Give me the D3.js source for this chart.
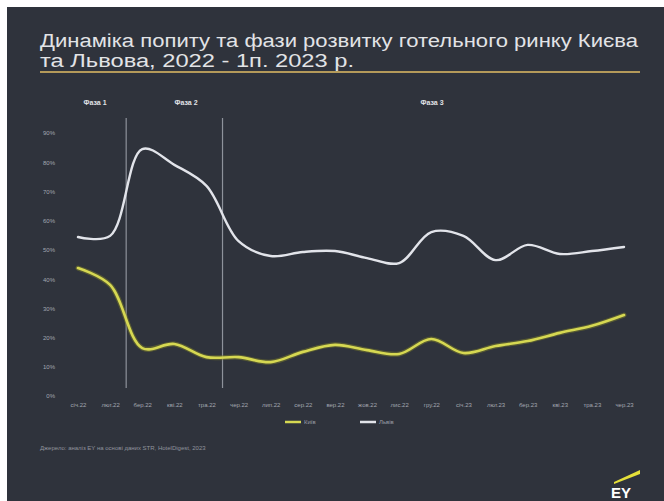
<!DOCTYPE html>
<html><head><meta charset="utf-8">
<script src="https://cdn.jsdelivr.net/npm/d3@7"></script>
<style>body{margin:0;background:#fff}svg{display:block}</style>
</head><body><svg id="c" width="664" height="501"></svg>
<script>
const months = ["січ.22","лют.22","бер.22","кві.22","тра.22","чер.22","лип.22","сер.22","вер.22","жов.22","лис.22","гру.22","січ.23","лют.23","бер.23","кві.23","тра.23","чер.23"];
const kyiv = [43.8,38.0,16.4,17.8,13.3,13.3,11.6,15.1,17.5,15.7,14.4,19.5,14.7,17.1,18.8,21.6,24.0,27.7];
const lviv = [54.4,54.8,84.5,79.1,71.9,53.0,47.9,49.3,49.6,47.2,45.5,56.1,54.8,46.5,51.7,48.6,49.6,51.0];
const yTicks = [0,10,20,30,40,50,60,70,80,90];
const phases = [{name:"Фаза 1", start:0, end:1.5},{name:"Фаза 2", start:1.5, end:4.5},{name:"Фаза 3", start:4.5, end:17}];
const seriesNames = ["Київ","Львів"];

const svg = d3.select("#c");
svg.append("rect").attr("x",7).attr("y",7).attr("width",657).attr("height",494).attr("fill","#2f333c");

svg.append("text").attr("x",40).attr("y",47).attr("fill","#e2e3e6")
  .attr("font-family","Liberation Sans, Arial, sans-serif").attr("font-size",18)
  .attr("textLength",598).attr("lengthAdjust","spacingAndGlyphs")
  .text("Динаміка попиту та фази розвитку готельного ринку Києва");
svg.append("text").attr("x",40).attr("y",67).attr("fill","#e2e3e6")
  .attr("font-family","Liberation Sans, Arial, sans-serif").attr("font-size",18)
  .attr("textLength",314).attr("lengthAdjust","spacingAndGlyphs")
  .text("та Львова, 2022 - 1п. 2023 р.");
svg.append("line").attr("x1",40).attr("x2",640).attr("y1",72).attr("y2",72)
  .attr("stroke","#b49a5a").attr("stroke-width",2);

const x = d3.scalePoint().domain(months).range([78,624]);
const y = d3.scaleLinear().domain([0,90]).range([396,133]);
const xi = i => 78 + i*(624-78)/17;

// phase separators
[1.5,4.5].forEach(p=>{
  svg.append("line").attr("x1",xi(p)).attr("x2",xi(p)).attr("y1",118).attr("y2",388)
    .attr("stroke","#8e929b").attr("stroke-width",1.2);
});
svg.selectAll(".ph").data(phases).enter().append("text")
  .attr("x",(d,i)=> i===0 ? 95 : i===1 ? 186 : 432).attr("y",105)
  .attr("text-anchor","middle").attr("fill","#e0e2e6").attr("font-weight","bold")
  .attr("font-family","Liberation Sans, Arial, sans-serif").attr("font-size",7)
  .text(d=>d.name);

// y axis
const ya = svg.append("g").attr("transform","translate(58,0)")
  .call(d3.axisLeft(y).tickValues(yTicks).tickFormat(d=>d+"%").tickSize(0));
ya.select(".domain").remove();
ya.selectAll("text").attr("fill","#a3a7b0").attr("font-size",6).attr("font-family","Liberation Sans, Arial, sans-serif");

// x axis
const xa = svg.append("g").attr("transform","translate(0,400)")
  .call(d3.axisBottom(x).tickSize(0));
xa.select(".domain").remove();
xa.selectAll("text").attr("fill","#a3a7b0").attr("font-size",6).attr("font-family","Liberation Sans, Arial, sans-serif");

const line = d3.line().x((d,i)=>x(months[i])).y(d=>y(d)).curve(d3.curveCatmullRom.alpha(0.5));
svg.append("path").datum(kyiv).attr("d",line).attr("fill","none")
  .attr("stroke","#7d7f2a").attr("stroke-width",5).attr("stroke-opacity",0.5).attr("stroke-linecap","round");
svg.append("path").datum(kyiv).attr("d",line).attr("fill","none")
  .attr("stroke","#d6d852").attr("stroke-width",2.6).attr("stroke-linecap","round");
svg.append("path").datum(lviv).attr("d",line).attr("fill","none")
  .attr("stroke","#e2e4ea").attr("stroke-width",2.4).attr("stroke-linecap","round");

// legend
const lg = svg.append("g").attr("font-family","Liberation Sans, Arial, sans-serif").attr("font-size",6).attr("fill","#9a9ea8");
const legendColors = ["#d6d852","#e2e4ea"];
seriesNames.forEach((n,i)=>{
  const lx = i===0 ? 285 : 360;
  lg.append("line").attr("x1",lx).attr("x2",lx+16).attr("y1",422).attr("y2",422)
    .attr("stroke",legendColors[i]).attr("stroke-width",2.5);
  lg.append("text").attr("x",lx+19).attr("y",424).text(n);
});

svg.append("text").attr("x",40).attr("y",450).attr("fill","#8f939c")
  .attr("font-family","Liberation Sans, Arial, sans-serif").attr("font-size",6)
  .text("Джерело: аналіз EY на основі даних STR, HotelDigest, 2023");

// EY logo
svg.append("polygon").attr("points","614,482 640,470 640,474 614,484").attr("fill","#e5e03a");
svg.append("text").attr("x",611).attr("y",498).attr("fill","#ffffff")
  .attr("font-family","Liberation Sans, Arial, sans-serif").attr("font-weight","bold").attr("font-size",15)
  .text("EY");
</script></body></html>
